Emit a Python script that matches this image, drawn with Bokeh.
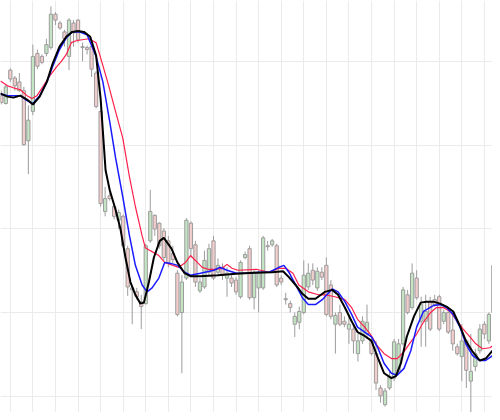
from bokeh.plotting import figure
from bokeh.models import ColumnDataSource, Range1d, FixedTicker
from bokeh.embed import file_html
from bokeh.resources import INLINE

# ---- candle data (bar index, OHLC) ----
idx = list(range(110))
opens = [323, 315, 349, 341, 337, 328, 277, 307, 366, 363,
         366, 372, 406, 397, 388, 363, 397, 400, 373, 372,
         373, 346, 307, 205, 221, 210, 196, 200, 167, 127,
         123, 113, 111, 175, 201, 193, 185, 175, 162, 142,
         102, 137, 193, 171, 124, 128, 143, 175, 143, 148,
         137, 137, 135, 118, 158, 167, 117, 127, 127, 170,
         171, 170, 137, 116, 111, 90, 92, 102, 128, 145,
         127, 143, 150, 130, 90, 102, 93, 85, 85, 60,
         73, 80, 73, 60, 25, 8, 25, 35, 42, 70,
         120, 107, 137, 93, 93, 113, 115, 118, 93, 102,
         84, 67, 57, 73, 32, 47, 63, 90, 73, 102]
highs = [328, 334, 351, 343, 346, 332, 313, 375, 370, 365,
         381, 414, 408, 399, 390, 402, 400, 401, 377, 374,
         375, 348, 308, 230, 229, 213, 207, 202, 170, 130,
         127, 120, 172, 227, 202, 194, 188, 180, 170, 145,
         140, 198, 195, 175, 137, 165, 172, 180, 157, 152,
         148, 140, 138, 155, 164, 170, 145, 145, 180, 175,
         177, 172, 140, 122, 114, 102, 108, 155, 152, 152,
         148, 148, 158, 135, 102, 110, 98, 100, 90, 80,
         98, 110, 77, 73, 28, 25, 42, 75, 75, 128,
         125, 152, 145, 118, 120, 118, 120, 120, 105, 105,
         103, 70, 90, 75, 80, 65, 90, 93, 102, 152]
lows = [314, 314, 337, 328, 327, 272, 243, 303, 350, 355,
        363, 370, 395, 390, 373, 349, 373, 377, 358, 365,
        342, 310, 210, 200, 216, 197, 187, 168, 119, 90,
        115, 85, 110, 173, 180, 167, 155, 148, 152, 98,
        40, 135, 158, 128, 122, 126, 140, 135, 140, 135,
        118, 128, 120, 116, 156, 115, 105, 102, 125, 165,
        169, 128, 130, 110, 102, 77, 85, 100, 125, 130,
        124, 135, 98, 95, 60, 88, 87, 70, 60, 52,
        70, 75, 58, 23, 10, 6, 23, 32, 40, 68,
        100, 105, 115, 67, 67, 83, 108, 83, 90, 80,
        63, 58, 32, 25, 0, 42, 60, 75, 70, 100]
closes = [316, 332, 340, 333, 328, 273, 298, 363, 353, 357,
          375, 406, 400, 392, 381, 400, 387, 380, 372, 370,
          350, 312, 213, 218, 218, 200, 204, 170, 128, 125,
          118, 108, 170, 205, 187, 170, 158, 153, 156, 100,
          133, 196, 167, 133, 133, 155, 167, 137, 150, 140,
          142, 132, 123, 153, 161, 117, 143, 142, 178, 169,
          175, 130, 133, 115, 107, 98, 103, 140, 142, 135,
          144, 138, 100, 98, 99, 90, 90, 90, 73, 73,
          93, 92, 60, 30, 17, 22, 37, 72, 70, 125,
          102, 142, 117, 110, 103, 85, 110, 85, 102, 82,
          70, 60, 73, 43, 42, 60, 85, 80, 100, 150]

# ---- smoothed average lines (position in bars, value) ----
black_x = [-0.2, 1.4, 2.7, 4.2, 5.7, 7.0, 8.5, 10.1, 11.4, 12.9, 14.4, 15.7, 17.0,
           18.3, 19.7, 21.0, 22.0, 23.1, 24.0, 25.3, 26.4, 27.5, 28.6, 29.7, 30.8,
           31.6, 32.7, 33.8, 35.1, 36.0, 37.7, 39.0, 40.6, 41.9, 44.0, 48.0, 52.0,
           56.0, 60.0, 62.4, 63.7, 65.2, 66.7, 68.0, 69.6, 71.1, 71.7, 73.3, 74.6,
           76.1, 77.6, 78.9, 80.5, 82.0, 83.3, 84.8, 86.4, 87.4, 88.5, 89.8, 91.4,
           92.9, 94.2, 95.7, 97.2, 98.6, 100.1, 101.6, 102.9, 104.4, 106.0, 107.3, 108.8]
black_y = [325, 322, 321, 323, 319, 314, 322, 337, 356, 373, 383, 388, 389,
           388, 383, 364, 320, 247, 227, 207, 187, 158, 133, 120, 111,
           112, 133, 158, 175, 178, 167, 153, 142, 139, 139, 140, 141.5,
           142.5, 143, 144, 138, 130, 121, 116, 116, 121, 123, 125, 120,
           107, 93, 82, 78, 73, 57, 40, 35, 37, 50, 77, 98,
           112, 113, 113, 111, 108, 103, 88, 73, 62, 53, 55, 63]
blue_x = [-0.2, 1.4, 2.7, 4.2, 5.7, 7.0, 8.5, 10.1, 11.4, 12.9, 14.4, 15.7, 17.3,
          19.0, 21.0, 22.5, 24.0, 25.3, 26.9, 28.4, 29.7, 31.2, 32.3, 33.4, 34.9,
          36.2, 37.5, 39.1, 40.6, 41.9, 44.1, 47.1, 48.4, 50.0, 52.1, 55.0, 57.1,
          59.3, 61.5, 62.6, 63.7, 65.2, 66.7, 68.0, 69.6, 71.1, 71.7, 73.3, 74.6,
          76.1, 77.6, 78.9, 80.5, 82.0, 83.3, 84.8, 86.4, 87.7, 89.2, 90.7, 92.0,
          93.5, 95.7, 97.3, 98.6, 100.1, 101.6, 102.9, 104.4, 106.0, 107.3, 108.8]
blue_y = [325, 323, 323, 323, 318, 315, 323, 337, 353, 370, 382, 388, 388,
          385, 363, 337, 297, 260, 220, 180, 150, 130, 123, 127, 137,
          153, 152, 150, 143, 140, 142, 145, 148, 145, 142, 142, 143,
          143, 148, 150, 143, 130, 117, 110, 110, 115, 118, 126, 123,
          113, 100, 87, 82, 77, 67, 50, 40, 38, 45, 63, 87,
          103, 109, 110, 107, 100, 87, 70, 58, 53, 53, 58]
red_x = [-0.2, 1.4, 2.7, 4.2, 5.7, 6.8, 7.9, 9.2, 10.7, 12.2, 13.3, 14.4, 15.5,
         16.6, 17.9, 19.4, 21.0, 22.3, 23.8, 25.3, 26.9, 28.4, 29.7, 31.2, 31.9,
         33.0, 34.9, 36.2, 38.0, 39.3, 40.8, 41.9, 43.0, 44.5, 45.8, 47.3, 48.9,
         50.0, 51.1, 52.4, 56.5, 59.3, 61.5, 63.0, 64.6, 65.9, 68.0, 70.2, 71.7,
         73.9, 76.1, 77.6, 78.9, 80.5, 82.0, 83.3, 84.8, 86.4, 87.7, 89.2, 90.7,
         92.0, 93.5, 95.1, 96.4, 97.9, 99.4, 100.7, 102.3, 103.8, 105.1, 106.6,
         108.2, 108.8]
red_y = [338, 333, 331, 329, 323, 320, 323, 332, 343, 352, 358, 365, 377,
         379, 380, 381, 377, 357, 333, 307, 280, 240, 210, 180, 168,
         165, 160, 153, 150, 148, 153, 160, 155, 148, 146, 146, 147,
         151, 147, 145, 146, 143, 147, 147, 142, 130, 123, 120, 120,
         118, 115, 107, 95, 87, 78, 68, 60, 55, 55, 62, 72,
         80, 92, 102, 107, 107, 103, 95, 85, 77, 70, 65,
         66, 68]

x_ticks = [2, 7, 12, 17, 22, 27, 32, 37, 42, 47, 52, 57, 62, 67, 72, 77, 82, 87, 92, 97, 102, 107]
y_ticks = [16.7, 102, 187.3, 272.6, 357.9]

UP_FILL = "#c4e5c4"
DOWN_FILL = "#f3cccc"
EDGE = "#9c9c9c"

src = ColumnDataSource(dict(
    x=idx,
    high=highs,
    low=lows,
    top=[max(o, c) for o, c in zip(opens, closes)],
    bottom=[min(o, c) for o, c in zip(opens, closes)],
    fill=[UP_FILL if c >= o else DOWN_FILL for o, c in zip(opens, closes)],
))

p = figure(width=492, height=412, x_range=Range1d(-0.174, 108.8), y_range=Range1d(0, 420),
           output_backend="svg", toolbar_location=None, min_border=0)
p.xaxis.visible = False
p.yaxis.visible = False
p.xgrid.ticker = FixedTicker(ticks=x_ticks)
p.ygrid.ticker = FixedTicker(ticks=y_ticks)
p.xgrid.grid_line_color = "#ebebeb"
p.ygrid.grid_line_color = "#ebebeb"
p.outline_line_color = None
p.background_fill_color = "white"
p.border_fill_color = "white"

p.segment(x0="x", y0="high", x1="x", y1="low", line_color=EDGE, line_width=1, source=src)
p.vbar(x="x", width=0.72, top="top", bottom="bottom", fill_color="fill",
       line_color=EDGE, line_width=1, source=src)

p.line(red_x, red_y, line_color="#ff1f4b", line_width=1.2)
p.line(blue_x, blue_y, line_color="#1a1aff", line_width=1.5)
p.line(black_x, black_y, line_color="black", line_width=2)

open("out.html", "w").write(file_html(p, INLINE))
